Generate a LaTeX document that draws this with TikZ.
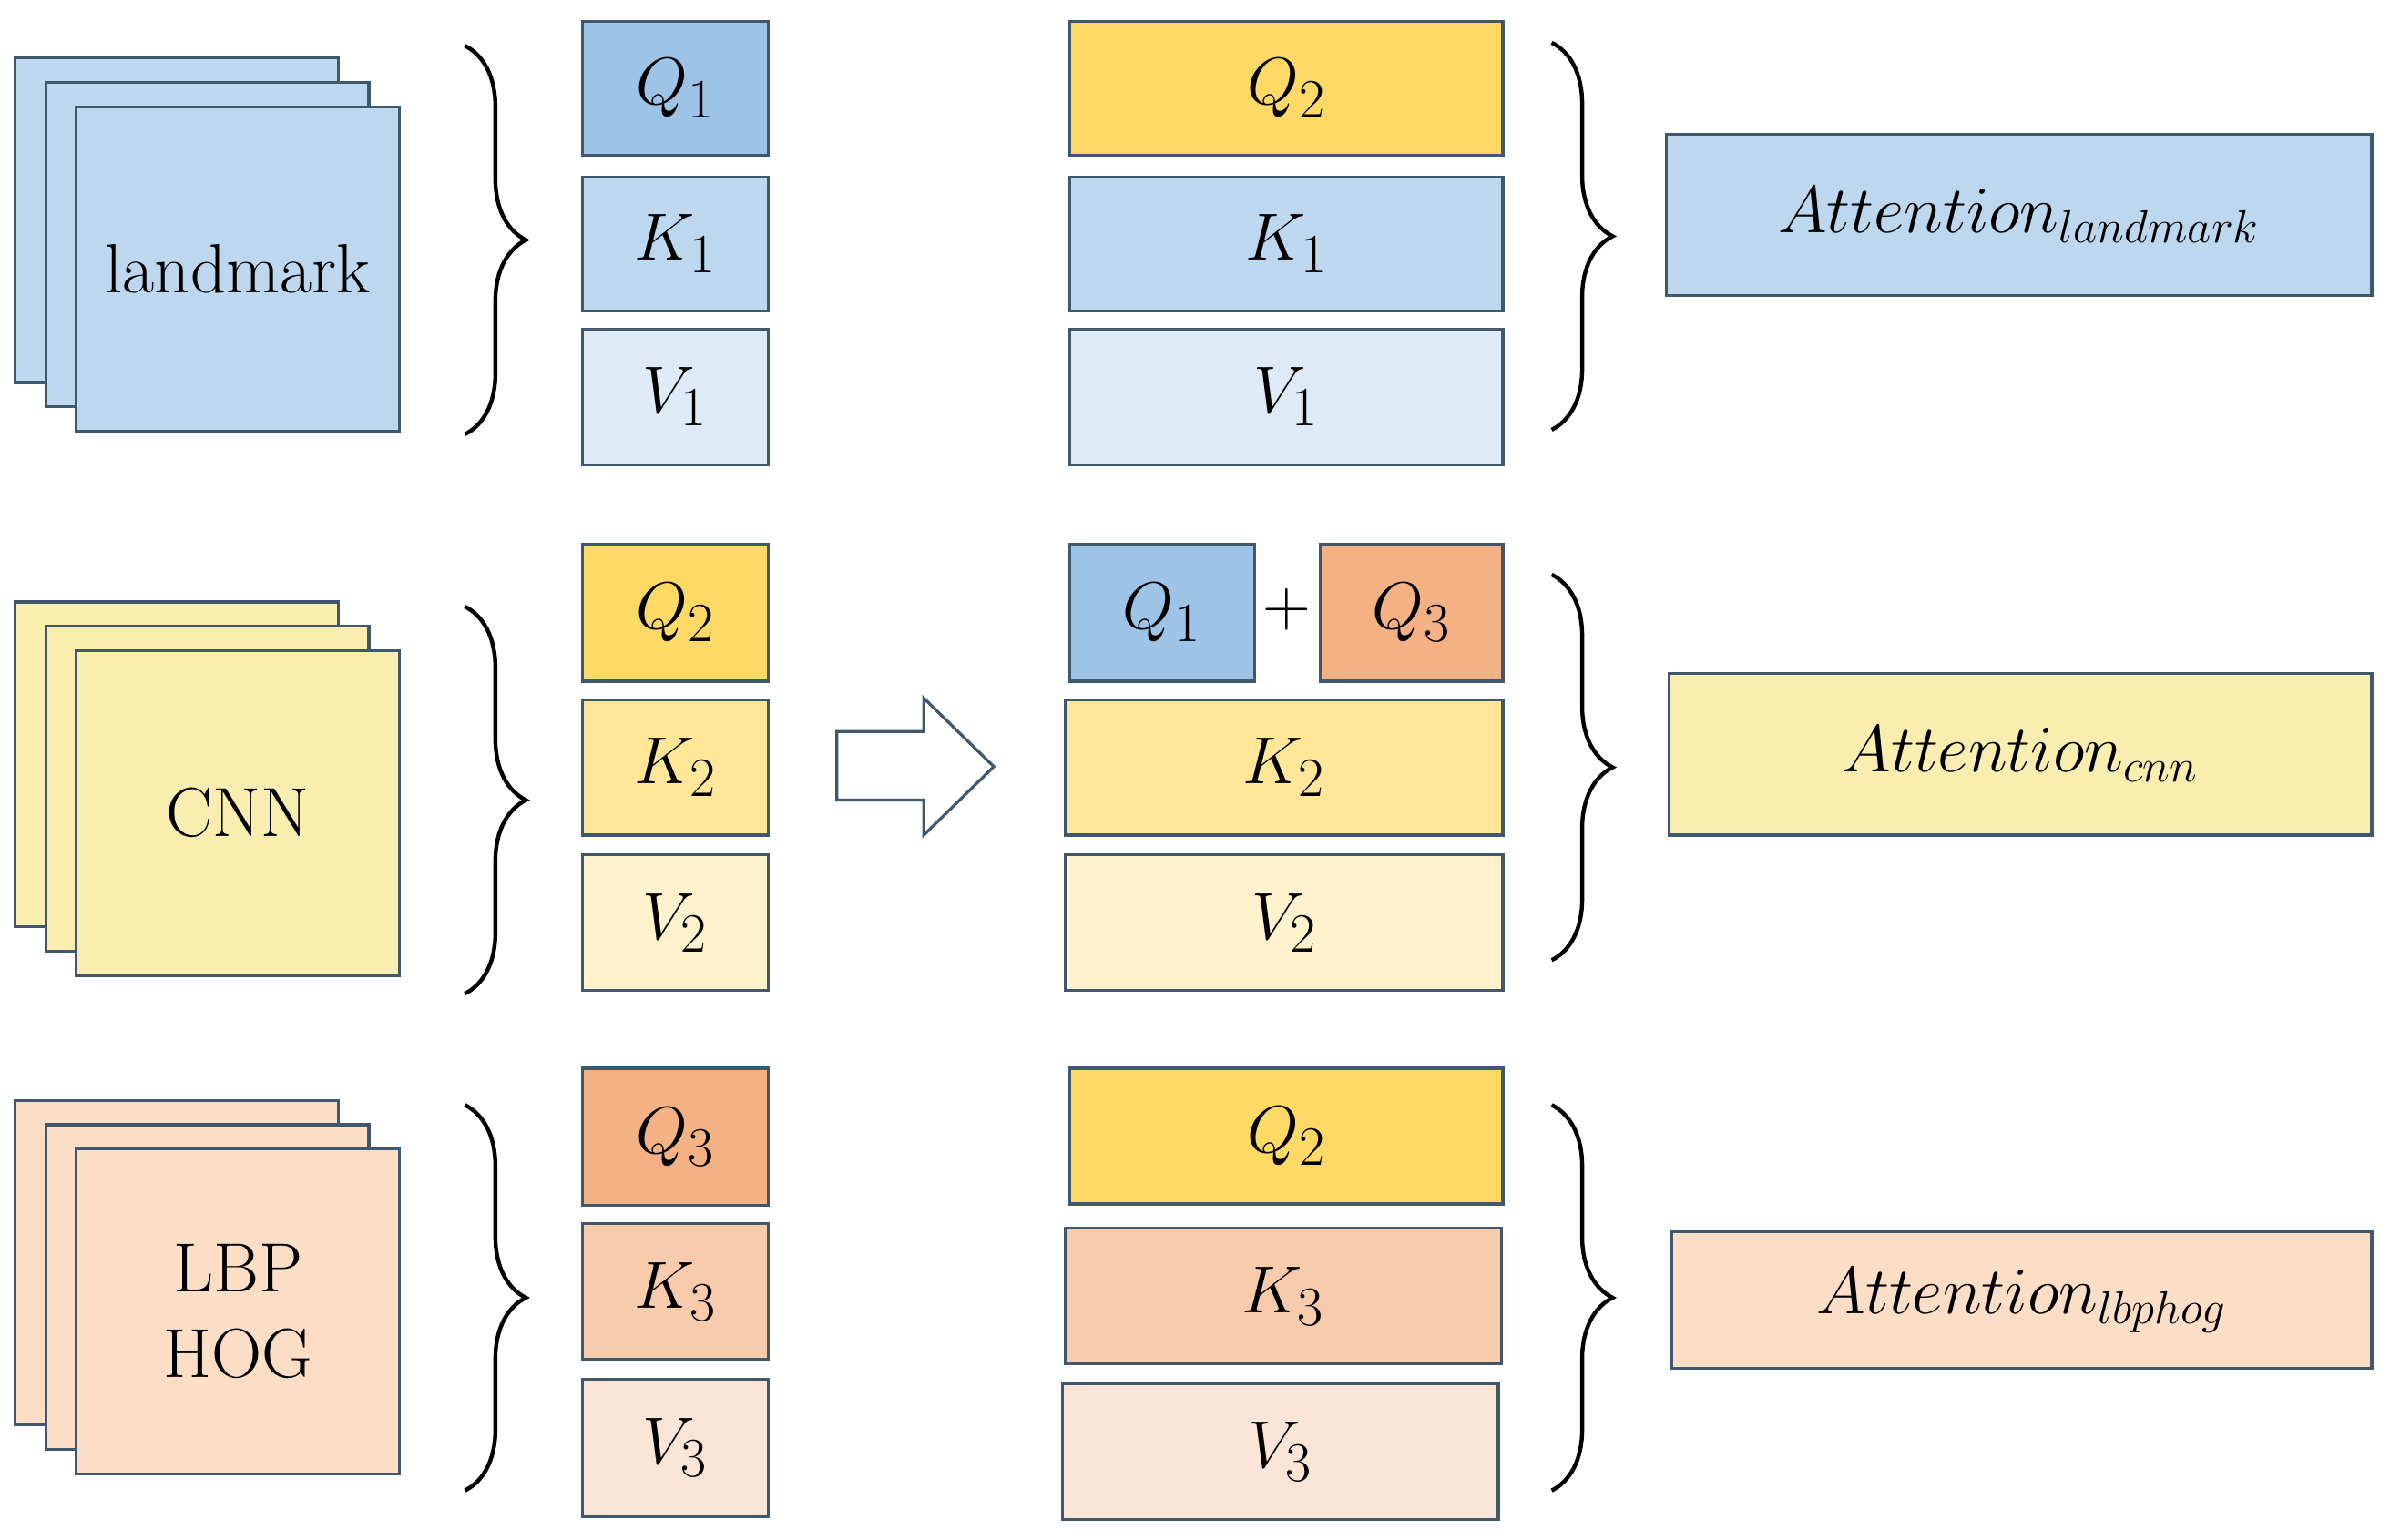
\documentclass[tikz,border=0pt]{standalone}
\usetikzlibrary{decorations.pathreplacing}
\definecolor{edgeblue}{HTML}{41576E}
\definecolor{blueA}{HTML}{9DC3E6}
\definecolor{blueB}{HTML}{BDD7EE}
\definecolor{blueC}{HTML}{DEEBF7}
\definecolor{yelA}{HTML}{FFD966}
\definecolor{yelB}{HTML}{FFE699}
\definecolor{yelC}{HTML}{FFF2CC}
\definecolor{yelS}{HTML}{F9EDB0}
\definecolor{orA}{HTML}{F4B183}
\definecolor{orB}{HTML}{F8CBAD}
\definecolor{orC}{HTML}{FBE5D6}
\definecolor{orS}{HTML}{FCDDC6}
% one box: name, corners, colour, text
\newcommand{\qkvbox}[7]{\path[box,fill=#6] (#2,#3) rectangle (#4,#5) node[midway,txt] (#1) {#7};}
% three stacked sheets with a label
\newcommand{\sheets}[5]{%
  \path[box,fill=#3] (#2) ++(-40,-32) rectangle ++(212,213);
  \path[box,fill=#3] (#2) ++(-20,-16) rectangle ++(212,213);
  \path[box,fill=#3] (#2) rectangle ++(212,213) node[midway,font=\fontsize{26}{32}\selectfont,align=center] (#1) {#4};}
\begin{document}
\begin{tikzpicture}[x=0.02cm,y=-0.02cm,
    box/.style={draw=edgeblue,line width=1.1pt},
    txt/.style={font=\fontsize{28}{34}\selectfont},
    brc/.style={decorate,decoration={brace,amplitude=0.8cm},line width=1.5pt},
    att/.style={font=\fontsize{26}{32}\selectfont}]
  \useasboundingbox (0,0) rectangle (1568,1010);
  % feature stacks
  \sheets{landmark}{50,70}{blueB}{landmark}{}
  \sheets{cnn}{50,427}{yelS}{CNN}{}
  \sheets{lbp}{50,754}{orS}{LBP\\HOG}{}
  % left braces
  \draw[brc] (305,30) -- (305,285);
  \draw[brc] (305,398) -- (305,652);
  \draw[brc] (305,725) -- (305,978);
  % Q K V columns
  \qkvbox{q1}{382}{14}{504}{102}{blueA}{$Q_1$}
  \qkvbox{k1}{382}{116}{504}{204}{blueB}{$K_1$}
  \qkvbox{v1}{382}{216}{504}{305}{blueC}{$V_1$}
  \qkvbox{q2}{382}{357}{504}{447}{yelA}{$Q_2$}
  \qkvbox{k2}{382}{459}{504}{548}{yelB}{$K_2$}
  \qkvbox{v2}{382}{561}{504}{650}{yelC}{$V_2$}
  \qkvbox{q3}{382}{701}{504}{791}{orA}{$Q_3$}
  \qkvbox{k3}{382}{803}{504}{892}{orB}{$K_3$}
  \qkvbox{v3}{382}{905}{504}{995}{orC}{$V_3$}
  % block arrow
  \draw[box,fill=white] (549,480) -- (606,480) -- (606,458) -- (652,503)
    -- (606,548) -- (606,525) -- (549,525) -- cycle;
  % cross attention inputs
  \qkvbox{rq2}{702}{14}{986}{102}{yelA}{$Q_2$}
  \qkvbox{rk1}{702}{116}{986}{204}{blueB}{$K_1$}
  \qkvbox{rv1}{702}{216}{986}{305}{blueC}{$V_1$}
  \qkvbox{rq1}{702}{357}{823}{447}{blueA}{$Q_1$}
  \qkvbox{rq3}{866}{357}{986}{447}{orA}{$Q_3$}
  \node[txt] (plus) at (844,400) {$+$};
  \qkvbox{rk2}{699}{459}{986}{548}{yelB}{$K_2$}
  \qkvbox{rv2}{699}{561}{986}{650}{yelC}{$V_2$}
  \qkvbox{rq2b}{702}{701}{986}{790}{yelA}{$Q_2$}
  \qkvbox{rk3}{699}{806}{985}{895}{orB}{$K_3$}
  \qkvbox{rv3}{697}{908}{983}{997}{orC}{$V_3$}
  % right braces
  \draw[brc] (1018,28) -- (1018,282);
  \draw[brc] (1018,377) -- (1018,630);
  \draw[brc] (1018,725) -- (1018,978);
  % outputs
  \path[box,fill=blueB] (1093,88) rectangle (1556,194) node[midway,att] (attlm) {$Attention_{landmark}$};
  \path[box,fill=yelS] (1095,442) rectangle (1556,548) node[midway,att] (attcnn) {$Attention_{cnn}$};
  \path[box,fill=orS] (1097,808) rectangle (1556,898) node[midway,att] (attlbp) {$Attention_{lbphog}$};
\end{tikzpicture}
\end{document}
